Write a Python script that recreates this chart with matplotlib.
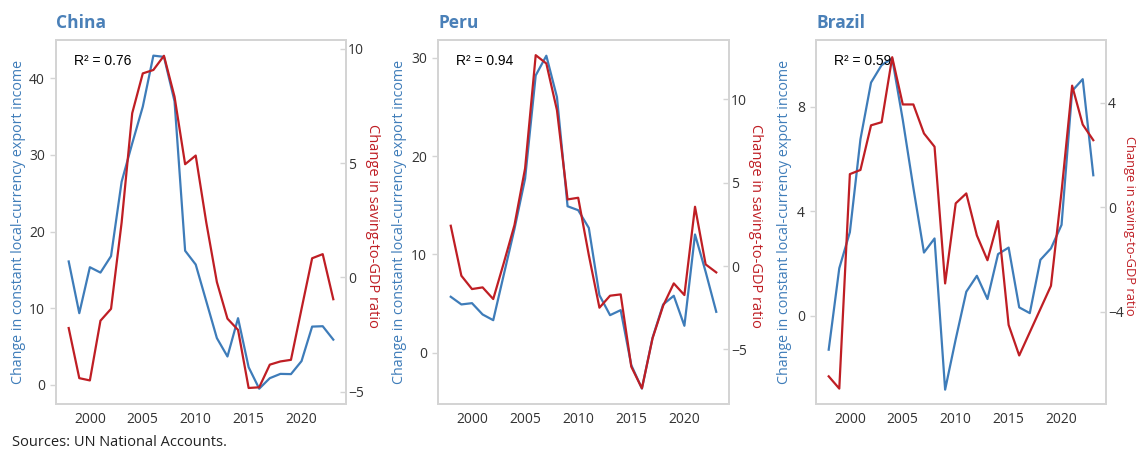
import matplotlib
matplotlib.use("Agg")
import matplotlib.pyplot as plt

# Annual data, 1998-2023
years = list(range(1998, 2024))

# Change in constant local-currency export income (left axis)
china_export = [16.1, 9.35, 15.35, 14.65, 16.8, 26.5, 31.5, 36.3, 42.96, 42.8, 37.0, 17.5, 15.7,
                10.9, 6.1, 3.7, 8.7, 2.3, -0.5, 0.87, 1.43, 1.4, 3.1, 7.6, 7.65, 5.9]
peru_export = [5.7, 4.92, 5.05, 3.9, 3.32, 7.97, 12.6, 17.7, 28.2, 30.2, 26.0, 14.9, 14.5,
               12.7, 5.86, 3.83, 4.34, -1.25, -3.63, 1.53, 4.92, 5.8, 2.75, 12.03, 8.24, 4.17]
brazil_export = [-1.3, 1.82, 3.2, 6.76, 8.93, 9.6, 9.85, 7.5, 4.9, 2.42, 2.96, -2.83, -0.9,
                 0.92, 1.53, 0.64, 2.36, 2.61, 0.32, 0.1, 2.14, 2.58, 3.48, 8.61, 9.06, 5.38]

# Change in saving-to-GDP ratio (right axis)
china_saving = [-2.21, -4.4, -4.5, -1.89, -1.37, 2.4, 7.18, 8.92, 9.07, 9.69, 7.9, 4.95, 5.33,
                2.4, -0.2, -1.8, -2.29, -4.83, -4.8, -3.81, -3.67, -3.6, -1.37, 0.84, 1.02, -0.95]
peru_saving = [2.42, -0.58, -1.38, -1.28, -1.98, 0.2, 2.46, 5.86, 12.66, 12.16, 9.36, 4.0, 4.1,
               0.66, -2.5, -1.78, -1.7, -6.04, -7.34, -4.34, -2.38, -1.04, -1.74, 3.56, 0.1, -0.38]
brazil_saving = [-6.48, -6.95, 1.27, 1.43, 3.14, 3.26, 5.75, 3.94, 3.94, 2.83, 2.32, -2.92, 0.15,
                 0.53, -1.08, -2.03, -0.53, -4.51, -5.68, -4.79, -3.9, -3.01, 0.6, 4.66, 3.17, 2.57]

countries = ["China", "Peru", "Brazil"]
r_squared = [0.76, 0.94, 0.59]
left_ticks = [[0, 10, 20, 30, 40], [0, 10, 20, 30], [0, 4, 8]]
right_ticks = [[-5, 0, 5, 10], [-5, 0, 5, 10], [-4, 0, 4]]
x_ticks = [2000, 2005, 2010, 2015, 2020]

BLUE = "#3e7cb9"
RED = "#bf1e24"
TITLE_BLUE = "#4a80b8"
GRID_GRAY = "#d4d4d4"
TEXT_GRAY = "#333333"

plt.rcParams['font.family'] = ['Open Sans', 'DejaVu Sans']


def draw_panel(fig, rect, name, export, saving, r2, lticks, rticks, llim, rlim, lab_x, rlab_x, rlab_size):
    ax = fig.add_axes(rect)
    ax2 = ax.twinx()

    ax.plot(years, export, color=BLUE, lw=1.6, zorder=3)
    ax2.plot(years, saving, color=RED, lw=1.6, zorder=3)

    ax.set_xlim(1996.8, 2024.2)
    ax.set_ylim(*llim)
    ax2.set_ylim(*rlim)
    ax.set_xticks(x_ticks)
    ax.set_yticks(lticks)
    ax2.set_yticks(rticks)

    for a in (ax, ax2):
        for s in a.spines.values():
            s.set_color(GRID_GRAY)
            s.set_linewidth(1.3)
    ax.tick_params(axis='x', length=0, pad=6, labelsize=10, labelcolor=TEXT_GRAY)
    ax.tick_params(axis='y', direction='out', length=4, width=1, color=GRID_GRAY,
                   pad=4, labelsize=10, labelcolor=TEXT_GRAY)
    ax2.tick_params(axis='y', direction='in', length=4, width=1, color=GRID_GRAY,
                    pad=1.5, labelsize=10, labelcolor=TEXT_GRAY)

    ax.text(lab_x, 0.5, "Change in constant local-currency export income", transform=ax.transAxes,
            rotation=90, ha='center', va='center', rotation_mode='anchor', color=BLUE, fontsize=10.3)
    ax2.text(rlab_x, 0.49, "Change in saving-to-GDP ratio", transform=ax.transAxes,
             rotation=-90, ha='center', va='center', rotation_mode='anchor', color=RED,
             fontsize=rlab_size)

    ax.text(0.062, 0.942, f"R² = {r2:.2f}", transform=ax.transAxes, ha='left', va='center',
            fontsize=10, family='Liberation Sans', color='black', zorder=5)

    fig.text(rect[0], 1 - 28 / 449, name, ha='left', va='baseline', fontsize=12.5,
             fontweight='bold', color=TITLE_BLUE)
    return ax, ax2


def main():
    fig = plt.figure(figsize=(11.36, 4.49), dpi=100)
    W, H = 1136, 449
    bottom = 1 - 404 / H
    height = 364 / H

    panels = [
        (56, 290, china_export, china_saving, (-2.5, 45.0), (-5.53, 10.38), -0.131, 1.09, 10.5),
        (438, 291, peru_export, peru_saving, (-5.2, 31.8), (-8.28, 13.57), -0.131, 1.09, 10.5),
        (816, 290, brazil_export, brazil_saving, (-3.38, 10.56), (-7.54, 6.41), -0.110, 1.0815, 9.3),
    ]
    for i, (x0, w, exp, sav, llim, rlim, lab_x, rlab_x, rsize) in enumerate(panels):
        rect = [x0 / W, bottom, w / W, height]
        draw_panel(fig, rect, countries[i], exp, sav, r_squared[i],
                   left_ticks[i], right_ticks[i], llim, rlim, lab_x, rlab_x, rsize)

    fig.text(12 / W, 1 - 442 / H, "Sources: UN National Accounts.", ha='left', va='center',
             fontsize=10.5, color='#222222')

    fig.savefig("out.png", dpi=100)
    plt.close(fig)


if __name__ == "__main__":
    main()
